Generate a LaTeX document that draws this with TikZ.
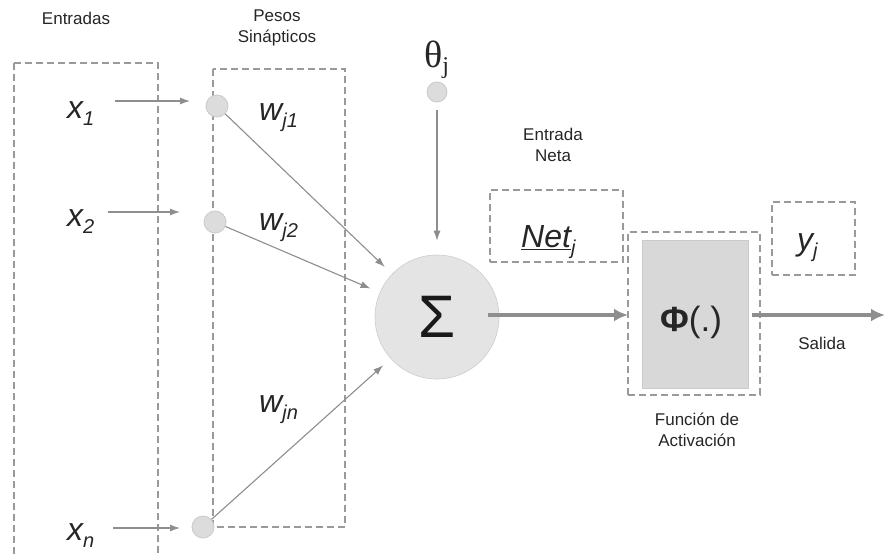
\documentclass[tikz,border=0pt]{standalone}
\usepackage{fontspec}
\setmainfont{Liberation Sans}
\newfontfamily\seriffont{Liberation Serif}
\usetikzlibrary{arrows.meta}
\definecolor{boxgray}{HTML}{9A9A9A}
\definecolor{arrgray}{HTML}{8E8E8E}
\definecolor{dotfill}{HTML}{DCDCDC}
\definecolor{dotdraw}{HTML}{CACACA}
\definecolor{sumfill}{HTML}{E4E4E4}
\definecolor{phifill}{HTML}{D8D8D8}
\newcommand{\biglab}[2]{{\fontsize{32}{32}\selectfont\itshape #1}\raisebox{-7pt}{\fontsize{20}{20}\selectfont\itshape #2}}
\begin{document}
\begin{tikzpicture}[x=1pt,y=-1pt,
  dashbox/.style={draw=boxgray,line width=1.2pt,dash pattern=on 7pt off 4pt},
  dot/.style={circle,fill=dotfill,draw=dotdraw,line width=0.8pt,minimum size=22pt,inner sep=0pt},
  thinarrow/.style={draw=arrgray,line width=1.1pt,-{Latex[length=10pt,width=7pt]}},
  thickarrow/.style={draw=arrgray,line width=4pt,-{Latex[length=14pt,width=13pt]}},
  smalltext/.style={font=\fontsize{17}{21}\selectfont,align=center,inner sep=0pt,text=black!85},
  lab/.style={inner sep=0pt,anchor=base west,text=black!85}
]
\useasboundingbox (0,0) rectangle (885,555);
\fill[white] (0,0) rectangle (885,555);

% containers
\draw[dashbox] (14,63) -- (158,63) -- (158,560);
\draw[dashbox] (14,63) -- (14,560);
\draw[dashbox] (213,69) rectangle (345,527);
\node[dashbox,minimum width=133pt,minimum height=72pt,inner sep=0pt] (netbox) at (556.5,226) {};
\node[dashbox,minimum width=132pt,minimum height=163pt,inner sep=0pt] (phiout) at (694,313.5) {};
\node[fill=phifill,draw=dotdraw,line width=1pt,minimum width=106pt,minimum height=148pt,inner sep=0pt] (phiin) at (695,314) {};
\node[dashbox,minimum width=83pt,minimum height=73pt,inner sep=0pt] (ybox) at (813.5,238.5) {};

% small labels
\node[smalltext] (entradas) at (76,18) {Entradas};
\node[smalltext] (pesos) at (277,28) {Pesos\\Sinápticos};
\node[smalltext] (neta) at (553,145) {Entrada\\Neta};
\node[smalltext] (funcion) at (697,430) {Función de\\Activación};
\node[smalltext] (salida) at (822,343) {Salida};

% nodes
\node[dot] (c1) at (217,106) {};
\node[dot] (c2) at (215,222) {};
\node[dot] (cn) at (203,527) {};
\node[dot,minimum size=20pt] (ct) at (437,92) {};
\node[circle,fill=sumfill,draw=sumfill!90!black,line width=0.6pt,minimum size=124pt,inner sep=0pt] (sum) at (437,317) {};
\node[inner sep=0pt,text=black!90,font=\fontsize{60}{60}\selectfont] (sigma) at (437,317) {Σ};

% math-like labels
\node[lab] (x1) at (67,118) {\biglab{x}{1}};
\node[lab] (x2) at (67,226) {\biglab{x}{2}};
\node[lab] (xn) at (67,540) {\biglab{x}{n}};
\node[lab] (w1) at (259,120) {\biglab{w}{j1}};
\node[lab] (w2) at (259,230) {\biglab{w}{j2}};
\node[lab] (wn) at (259,412) {\biglab{w}{jn}};
\node[lab] (net) at (521,247) {{\fontsize{32}{32}\selectfont\itshape\underline{Net}}\raisebox{-7pt}{\fontsize{20}{20}\selectfont\itshape j}};
\node[lab] (yj) at (797,250) {\biglab{y}{j}};
\node[lab] (theta) at (424,67) {{\seriffont\fontsize{38}{38}\selectfont θ}\raisebox{-6pt}{\seriffont\fontsize{24}{24}\selectfont j}};
\node[lab] (phi) at (660,331) {{\fontsize{35}{35}\selectfont\bfseries Φ}{\fontsize{35}{35}\selectfont(.)}};

% connectors
\coordinate (a1) at (115,101);
\coordinate (b1) at (190,101);
\coordinate (a2) at (108,212);
\coordinate (b2) at (180,212);
\coordinate (an) at (113,528);
\coordinate (bn) at (180,528);
\draw[thinarrow] (a1) -- (b1);
\draw[thinarrow] (a2) -- (b2);
\draw[thinarrow] (an) -- (bn);
\draw[thinarrow,shorten >=10pt] (c1) -- (sum);
\draw[thinarrow,shorten >=10pt] (c2) -- (sum);
\draw[thinarrow,shorten >=10pt] (cn) -- (sum);
\draw[thinarrow,shorten <=8pt,shorten >=14pt] (ct) -- (sum);
\coordinate (sout) at (488,315);
\coordinate (pin) at (628,315);
\draw[thickarrow] (sout) -- (pin);
\coordinate (pout) at (752,315);
\coordinate (yout) at (885,315);
\draw[thickarrow] (pout) -- (yout);
\end{tikzpicture}
\end{document}
